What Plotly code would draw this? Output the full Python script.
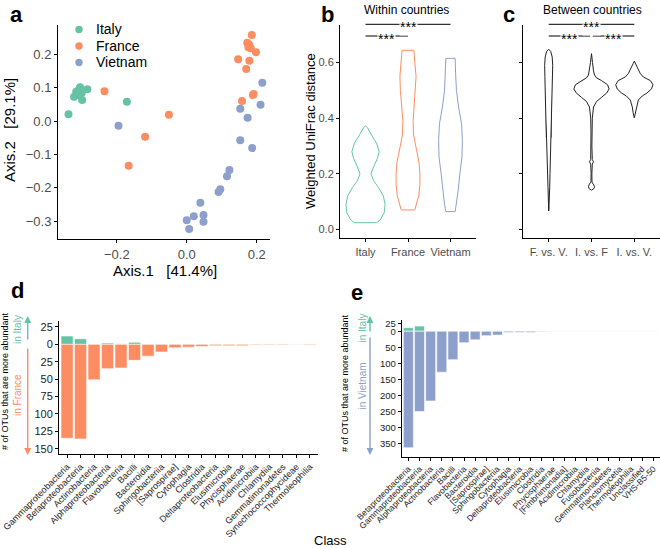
import plotly.graph_objects as go

# ---------------- DATA ----------------
# panel a: PCoA coordinates
italy_x = [-0.338, -0.322, -0.316, -0.305, -0.311, -0.299, -0.284, -0.300, -0.312, -0.171]
italy_y = [0.020, 0.073, 0.088, 0.101, 0.078, 0.063, 0.095, 0.085, 0.090, 0.058]
france_x = [-0.235, -0.051, -0.119, -0.166, 0.186, 0.173, 0.179, 0.176, 0.183, 0.198,
            0.147, 0.179, 0.170, 0.189, 0.191, 0.158]
france_y = [0.089, 0.019, -0.047, -0.134, 0.258, 0.235, 0.228, 0.221, 0.218, 0.206,
            0.185, 0.181, 0.156, 0.078, 0.081, 0.060]
vietnam_x = [-0.195, 0.216, 0.211, 0.153, 0.174, 0.153, 0.187, 0.122, 0.115, 0.096,
             0.091, 0.039, 0.000, 0.020, 0.048, 0.048, 0.007]
vietnam_y = [-0.014, 0.115, 0.049, 0.037, 0.010, -0.058, -0.081, -0.147, -0.166, -0.205,
             -0.213, -0.245, -0.298, -0.286, -0.282, -0.302, -0.324]
countries = ["Italy", "France", "Vietnam"]

# panel b: within-country violins (density profile: y level, half width in category units)
b_groups = ["Italy", "France", "Vietnam"]
b_italy_y = [0.024, 0.035, 0.06, 0.09, 0.12, 0.15, 0.175, 0.2, 0.225, 0.255, 0.28, 0.31, 0.34, 0.365, 0.372]
b_italy_w = [0.26, 0.35, 0.44, 0.46, 0.42, 0.31, 0.19, 0.13, 0.19, 0.28, 0.32, 0.26, 0.14, 0.05, 0.0]
b_france_y = [0.07, 0.09, 0.12, 0.16, 0.2, 0.24, 0.29, 0.34, 0.39, 0.44, 0.5, 0.55, 0.6, 0.644]
b_france_w = [0.16, 0.2, 0.25, 0.28, 0.28, 0.26, 0.19, 0.13, 0.12, 0.14, 0.18, 0.19, 0.16, 0.14]
b_vietnam_y = [0.064, 0.09, 0.14, 0.2, 0.26, 0.32, 0.38, 0.44, 0.5, 0.56, 0.615]
b_vietnam_w = [0.11, 0.14, 0.18, 0.22, 0.27, 0.28, 0.26, 0.19, 0.14, 0.12, 0.11]
b_q1 = [0.075, 0.14, 0.20]
b_med = [0.105, 0.24, 0.297]
b_q3 = [0.27, 0.50, 0.396]
b_lo = [0.025, 0.07, 0.065]
b_hi = [0.37, 0.645, 0.615]

# panel c: between-country violins
c_groups = ["F. vs. V.", "I. vs. F", "I. vs. V."]
c_fv_y = [0.067, 0.1, 0.15, 0.2, 0.25, 0.3, 0.35, 0.4, 0.45, 0.5, 0.55, 0.59, 0.62, 0.64, 0.648]
c_fv_w = [0.0, 0.016, 0.024, 0.031, 0.038, 0.047, 0.054, 0.066, 0.078, 0.085, 0.089, 0.094, 0.082, 0.047, 0.0]
c_if_y = [0.141, 0.147, 0.155, 0.163, 0.17, 0.2, 0.235, 0.243, 0.251, 0.3, 0.35, 0.4, 0.44, 0.46,
          0.475, 0.49, 0.505, 0.52, 0.535, 0.545, 0.555, 0.57, 0.6, 0.632]
c_if_w = [0.0, 0.059, 0.071, 0.047, 0.012, 0.009, 0.019, 0.047, 0.019, 0.009, 0.012, 0.019, 0.047, 0.118,
          0.235, 0.353, 0.412, 0.376, 0.235, 0.118, 0.071, 0.047, 0.024, 0.0]
c_iv_y = [0.401, 0.42, 0.44, 0.465, 0.48, 0.49, 0.505, 0.52, 0.535, 0.548, 0.56, 0.572, 0.585, 0.596, 0.605]
c_iv_w = [0.0, 0.028, 0.047, 0.094, 0.188, 0.294, 0.4, 0.435, 0.376, 0.212, 0.141, 0.101, 0.059, 0.028, 0.0]
c_q1 = [0.33, 0.485, 0.507]
c_med = [0.45, 0.51, 0.525]
c_q3 = [0.539, 0.53, 0.546]
c_lo = [0.067, 0.45, 0.48]
c_hi = [0.645, 0.57, 0.575]

# panel d: Italy vs France
d_classes = ["Gammaproteobacteria", "Betaproteobacteria", "Actinobacteria", "Alphaproteobacteria",
             "Flavobacteria", "Bacilli", "Bacteroidia", "Sphingobacteriia", "[Saprospirae]",
             "Cytophagia", "Clostridia", "Deltaproteobacteria", "Elusimicrobia", "Phycisphaerae",
             "Acidimicrobiia", "Chlamydiia", "Gemmatimonadetes", "Synechococcophycideae", "Thermoleophilia"]
d_italy = [12, 8, 0, 2, 1, 3, 0, 0, 0, 0, 0, 0, 0, 0, 0, 0, 0, 1, 0]
d_france = [135, 136, 51, 35, 34, 23, 17, 11, 5, 4, 3, 2, 2, 2, 1, 1, 1, 0, 1]
d_ticks = [25, 0, -25, -50, -75, -100, -125, -150]

# panel e: Italy vs Vietnam
e_classes = ["Betaproteobacteria", "Gammaproteobacteria", "Alphaproteobacteria", "Actinobacteria",
             "Bacilli", "Flavobacteria", "Bacteroidia", "[Saprospirae]", "Sphingobacteriia",
             "Cytophagia", "Deltaproteobacteria", "Elusimicrobia", "Clostridia", "Phycisphaerae",
             "[Fimbriimonadia]", "Acidimicrobiia", "Chlamydiia", "Fusobacteriia", "Gemmatimonadetes",
             "Planctomycetia", "Thermoleophilia", "Unclassified", "VHS-B5-50"]
e_italy = [11, 16] + [0] * 21
e_vietnam = [364, 251, 218, 128, 89, 36, 27, 14, 12, 4, 4, 4, 2, 1, 1, 1, 1, 1, 1, 1, 1, 1, 1]
e_ticks = [25, 0, -50, -100, -150, -200, -250, -300, -350]

# ---------------- STYLE ----------------
W, H = 660, 548
FONT = "Liberation Sans, Arial, Helvetica, sans-serif"
GREEN, ORANGE, BLUE = "#66C2A5", "#FC8D62", "#8DA0CB"
TICKC = "#4D4D4D"


def px(x):
    return x / W


def py(y):
    return 1 - y / H


fig = go.Figure()

# ---- panel a ----
for name, xs, ys, col in [("Italy", italy_x, italy_y, GREEN),
                          ("France", france_x, france_y, ORANGE),
                          ("Vietnam", vietnam_x, vietnam_y, BLUE)]:
    fig.add_trace(go.Scatter(x=xs, y=ys, mode="markers", name=name, showlegend=False,
                             marker=dict(color=col, size=8, line=dict(width=0)),
                             xaxis="x", yaxis="y"))


# ---- violins helper ----
def add_violin(center, ys, ws, color, xa, ya):
    xs = [center + w for w in ws] + [center - w for w in reversed(ws)] + [center + ws[0]]
    yy = list(ys) + list(reversed(ys)) + [ys[0]]
    fig.add_trace(go.Scatter(x=xs, y=yy, mode="lines", fill="toself", fillcolor="white",
                             line=dict(color=color, width=1), showlegend=False,
                             hoverinfo="skip", xaxis=xa, yaxis=ya))


b_cols = [GREEN, ORANGE, BLUE]
for i, (ys, ws) in enumerate([(b_italy_y, b_italy_w), (b_france_y, b_france_w),
                              (b_vietnam_y, b_vietnam_w)]):
    add_violin(i, ys, ws, b_cols[i], "x2", "y2")
    fig.add_trace(go.Box(x=[i], q1=[b_q1[i]], median=[b_med[i]], q3=[b_q3[i]],
                         lowerfence=[b_lo[i]], upperfence=[b_hi[i]], width=0.11,
                         whiskerwidth=0, fillcolor="white", line=dict(color=b_cols[i], width=1),
                         boxpoints=False, showlegend=False, xaxis="x2", yaxis="y2"))

for i, (ys, ws) in enumerate([(c_fv_y, c_fv_w), (c_if_y, c_if_w), (c_iv_y, c_iv_w)]):
    add_violin(i, ys, ws, "#222222", "x3", "y3")
    fig.add_trace(go.Box(x=[i], q1=[c_q1[i]], median=[c_med[i]], q3=[c_q3[i]],
                         lowerfence=[c_lo[i]], upperfence=[c_hi[i]], width=0.11,
                         whiskerwidth=0, fillcolor="white", line=dict(color="#222222", width=1),
                         boxpoints=False, showlegend=False, xaxis="x3", yaxis="y3"))

# ---- bars d ----
fig.add_trace(go.Bar(x=d_classes, y=d_italy, marker=dict(color=GREEN, line=dict(color="white", width=0.6)),
                     width=0.9, showlegend=False, xaxis="x4", yaxis="y4"))
fig.add_trace(go.Bar(x=d_classes, y=[-v for v in d_france],
                     marker=dict(color=ORANGE, line=dict(color="white", width=0.6)),
                     width=0.9, showlegend=False, xaxis="x4", yaxis="y4"))
# ---- bars e ----
fig.add_trace(go.Bar(x=e_classes, y=e_italy, marker=dict(color=GREEN, line=dict(color="white", width=0.6)),
                     width=0.9, showlegend=False, xaxis="x5", yaxis="y5"))
fig.add_trace(go.Bar(x=e_classes, y=[-v for v in e_vietnam],
                     marker=dict(color=BLUE, line=dict(color="white", width=0.6)),
                     width=0.9, showlegend=False, xaxis="x5", yaxis="y5"))

axis_common = dict(showline=True, linecolor="black", linewidth=1, ticks="outside", ticklen=3,
                   tickcolor="black", showgrid=False, zeroline=False, mirror=False, automargin=False)

fig.update_layout(
    width=W, height=H, margin=dict(l=0, r=0, t=0, b=0, autoexpand=False),
    paper_bgcolor="white", plot_bgcolor="white",
    font=dict(family=FONT, color="black"),
    barmode="relative", boxmode="overlay", bargap=0.1,
    showlegend=False,
    xaxis=dict(domain=[px(58), px(270)], range=[-0.368, 0.238], anchor="y",
               tickvals=[-0.2, 0.0, 0.2], tickformat=".1f", tickangle=0,
               tickfont=dict(size=13, color=TICKC), **axis_common),
    yaxis=dict(domain=[py(239), py(25)], range=[-0.354, 0.288], anchor="x",
               tickvals=[-0.3, -0.2, -0.1, 0.0, 0.1, 0.2], tickformat=".1f",
               tickfont=dict(size=13, color=TICKC), **axis_common),
    xaxis2=dict(domain=[px(340), px(476)], range=[-0.6, 2.6], anchor="y2",
                tickvals=[0, 1, 2], ticktext=b_groups, tickangle=0,
                tickfont=dict(size=11, color=TICKC), **axis_common),
    yaxis2=dict(domain=[py(238.3), py(25)], range=[-0.032, 0.735], anchor="x2",
                tickvals=[0, 0.2, 0.4, 0.6], tickformat=".1f",
                tickfont=dict(size=11, color=TICKC), **axis_common),
    xaxis3=dict(domain=[px(523), px(660)], range=[-0.6, 2.6], anchor="y3",
                tickvals=[0, 1, 2], ticktext=c_groups, tickangle=0,
                tickfont=dict(size=11, color=TICKC), **axis_common),
    yaxis3=dict(domain=[py(238.3), py(25)], range=[-0.032, 0.735], anchor="x3",
                tickvals=[0, 0.2, 0.4, 0.6], showticklabels=False, **axis_common),
    xaxis4=dict(domain=[px(59), px(318)], type="category", range=[-0.6, 18.6], anchor="y4",
                tickmode="array", tickvals=d_classes, ticktext=d_classes,
                tickangle=-45, tickfont=dict(size=9, color="#222222"), **axis_common),
    yaxis4=dict(domain=[py(454), py(320.7)], range=[-157.6, 34], anchor="x4",
                tickvals=d_ticks, ticktext=[str(abs(v)) for v in d_ticks],
                tickfont=dict(size=11, color="#222222"), **axis_common),
    xaxis5=dict(domain=[px(401.7), px(660)], type="category", range=[-0.6, 22.6], anchor="y5",
                tickmode="array", tickvals=e_classes, ticktext=e_classes,
                tickangle=-45, tickfont=dict(size=8.5, color="#222222"), **axis_common),
    yaxis5=dict(domain=[py(456.7), py(320)], range=[-392, 35], anchor="x5",
                tickvals=e_ticks, ticktext=[str(abs(v)) for v in e_ticks],
                tickfont=dict(size=9.5, color="#222222"), **axis_common),
)

ann = []
shapes = []


def text(x, y, s, size, color="black", angle=0, bold=False, xanchor="center", yanchor="middle"):
    ann.append(dict(x=px(x), y=py(y), xref="paper", yref="paper", text=("<b>%s</b>" % s) if bold else s,
                    showarrow=False, textangle=angle, xanchor=xanchor, yanchor=yanchor,
                    font=dict(size=size, color=color, family=FONT)))


# legend of panel a (key circles + labels)
for k, (name, col) in enumerate(zip(countries, [GREEN, ORANGE, BLUE])):
    yc = 29.5 + k * 16.5
    shapes.append(dict(type="circle", xref="paper", yref="paper", x0=px(75.3), x1=px(82.7),
                       y0=py(yc + 3.7), y1=py(yc - 3.7), fillcolor=col, line=dict(width=0)))
    text(94, yc, name, 14, xanchor="left")

# panel letters
text(16, 15, "a", 22, bold=True)
text(327, 15, "b", 22, bold=True)
text(509, 15, "c", 22, bold=True)
text(17, 290, "d", 22, bold=True)
text(357, 292, "e", 22, bold=True)

# axis titles
text(165, 270, "Axis.1&nbsp;&nbsp;&nbsp;[41.4%]", 15)
text(9, 130, "Axis.2&nbsp;&nbsp;&nbsp;[29.1%]", 15, angle=-90)
text(311, 131, "Weighted UniFrac distance", 13, angle=-90)
text(406, 10, "Within countries", 12)
text(592, 10, "Between countries", 12)
text(331, 540, "Class", 13)

# d side labels
text(5, 381, "# of OTUs that are more abundant", 9, angle=-90)
text(17, 330, "in Italy", 10, color=GREEN, angle=-90)
text(17, 395, "in France", 10, color=ORANGE, angle=-90)
# e side labels
text(345, 383, "# of OTUs that are more abundant", 9, angle=-90)
text(361.5, 328, "in Italy", 10, color=GREEN, angle=-90)
text(361.5, 386, "in Vietnam", 10, color=BLUE, angle=-90)


def arrow(x, y_tail, y_head, color):
    ann.append(dict(x=px(x), y=py(y_head), xref="paper", yref="paper", ax=0, ay=y_tail - y_head,
                    axref="pixel", ayref="pixel", text="", showarrow=True, arrowhead=2,
                    arrowsize=1, arrowwidth=1.4, arrowcolor=color))


arrow(27.7, 341, 316, GREEN)
arrow(27.7, 347, 455, ORANGE)
arrow(370, 333, 316, GREEN)
arrow(370, 336, 455, BLUE)


# significance brackets
def bracket(xa, x0, x1, y):
    shapes.append(dict(type="line", xref=xa, yref="paper", x0=x0, x1=x1, y0=py(y), y1=py(y),
                       line=dict(color="black", width=1)))
    ann.append(dict(x=(x0 + x1) / 2, y=py(y), xref=xa, yref="paper", text="***", showarrow=False,
                    xanchor="center", yanchor="middle",
                    bgcolor="white", yshift=-3, borderpad=0,
                    font=dict(size=14, color="black", family=FONT)))


bracket("x2", 0, 2, 24.3)
bracket("x2", 0, 1, 36)
bracket("x3", 0, 2, 24.3)
bracket("x3", 0, 0.97, 36)
bracket("x3", 1.03, 2, 36)

fig.update_layout(annotations=ann, shapes=shapes)
fig.write_html("out.html", config={"displayModeBar": False},
               post_script="document.body.style.margin='0';document.body.style.padding='0';")
